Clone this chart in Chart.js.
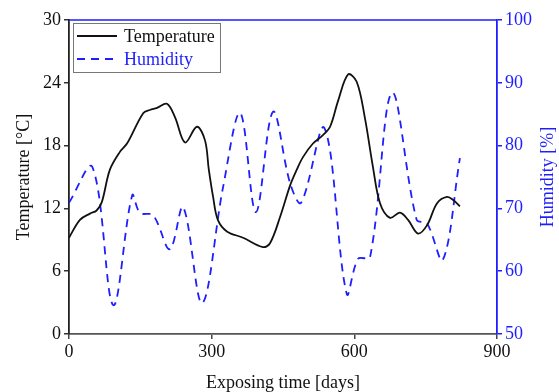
<!DOCTYPE html>
<html>
<head>
<meta charset="utf-8">
<script src="https://cdn.jsdelivr.net/npm/chart.js@4/dist/chart.umd.min.js"></script>
<style>
  body { margin: 0; background: #fff; }
  canvas { display: block; }
</style>
</head>
<body>
<canvas id="myChart" width="559" height="392"></canvas>
<script>
// temperature readings over the exposure period
const tempDays = [0, 23, 44, 58, 69, 86, 107, 122, 156, 170, 185, 206, 223, 244, 269, 286, 294, 303, 313, 332, 366, 408, 423, 444, 465, 479, 492, 513, 534, 549, 566, 587, 605, 622, 639, 654, 675, 696, 713, 734, 753, 774, 795, 808, 822];
const tempValues = [9.2, 10.9, 11.5, 11.8, 12.6, 15.7, 17.4, 18.2, 21.1, 21.4, 21.6, 22.0, 20.7, 18.3, 19.8, 18.5, 15.7, 13.1, 10.9, 9.8, 9.2, 8.3, 8.7, 11.2, 14.2, 15.7, 16.9, 18.2, 19.0, 19.8, 22.3, 24.8, 24.1, 20.7, 16.0, 12.5, 11.1, 11.6, 10.9, 9.6, 10.4, 12.5, 13.1, 12.8, 12.2];

// relative humidity readings
const humDays = [0, 49, 93, 133, 149, 177, 212, 240, 280, 324, 360, 393, 429, 465, 488, 537, 584, 608, 633, 679, 731, 753, 786, 822];
const humValues = [70.9, 76.6, 54.6, 72.1, 69.3, 68.9, 63.5, 70.2, 54.9, 73.4, 85.2, 69.4, 85.4, 74.0, 70.9, 82.8, 56.4, 62.0, 62.2, 88.4, 68.2, 67.6, 61.8, 78.0];

const xTicks = [0, 300, 600, 900];
const tempTicks = [0, 6, 12, 18, 24, 30];
const humTicks = [50, 60, 70, 80, 90, 100];

const BLUE = 'rgb(30,30,255)';
const FONT = 'Liberation Serif';

const ctx = document.getElementById('myChart').getContext('2d');

// top frame line, right axis title and the legend box
const extras = {
  id: 'extras',
  afterDraw(chart) {
    const c = chart.ctx;
    const area = chart.chartArea;
    c.save();
    c.strokeStyle = BLUE;
    c.lineWidth = 1.5;
    c.beginPath();
    c.moveTo(area.left, area.top);
    c.lineTo(area.right, area.top);
    c.stroke();

    // humidity title reads bottom to top
    c.save();
    c.translate(chart.width - 11, (area.top + area.bottom) / 2);
    c.rotate(-Math.PI / 2);
    c.font = '18px "' + FONT + '"';
    c.fillStyle = BLUE;
    c.textAlign = 'center';
    c.textBaseline = 'middle';
    c.fillText('Humidity [%]', 0, 0);
    c.restore();

    const x0 = area.left + 4, y0 = area.top + 3;
    c.strokeStyle = '#777';
    c.lineWidth = 1;
    c.strokeRect(x0 + 0.5, y0 + 0.5, 147, 49);
    c.font = '18px "' + FONT + '"';
    c.textBaseline = 'middle';
    chart.data.datasets.forEach((ds, i) => {
      const y = y0 + 13 + i * 23;
      c.strokeStyle = ds.borderColor;
      c.lineWidth = ds.borderWidth;
      c.setLineDash(ds.borderDash || []);
      c.beginPath();
      c.moveTo(x0 + 4, y);
      c.lineTo(x0 + 44, y);
      c.stroke();
      c.setLineDash([]);
      c.fillStyle = ds.borderColor;
      c.fillText(ds.label, x0 + 51, y + 1);
    });
    c.restore();
  }
};

const toPoints = (xs, ys) => xs.map((d, i) => ({ x: d, y: ys[i] }));

let myChart = new Chart(ctx, {
  type: 'line',
  data: {
    datasets: [{
      label: 'Temperature',
      data: toPoints(tempDays, tempValues),
      borderColor: '#111',
      borderWidth: 1.8,
      pointRadius: 0,
      tension: 0.35,
      yAxisID: 'y'
    }, {
      label: 'Humidity',
      data: toPoints(humDays, humValues),
      borderColor: BLUE,
      borderWidth: 1.8,
      borderDash: [8, 6],
      pointRadius: 0,
      tension: 0.35,
      yAxisID: 'y1'
    }]
  },
  options: {
    responsive: false,
    animation: false,
    layout: { padding: { top: 20, left: 0, right: 0, bottom: 0 } },
    plugins: { legend: { display: false }, tooltip: { enabled: false } },
    scales: {
      x: {
        type: 'linear',
        min: 0,
        max: 900,
        afterBuildTicks: (s) => { s.ticks = xTicks.map(v => ({ value: v })); },
        afterFit: (s) => { s.height = 58; },
        ticks: { color: '#111', font: { family: FONT, size: 18 }, padding: 2, maxRotation: 0 },
        grid: { drawOnChartArea: false, tickLength: 5, color: '#444', lineWidth: 1.5 },
        border: { color: '#555', width: 1.8 },
        title: { display: true, text: 'Exposing time [days]', color: '#111', font: { family: FONT, size: 18 }, padding: { top: 0, bottom: -2 } }
      },
      y: {
        position: 'left',
        min: 0,
        max: 30,
        afterBuildTicks: (s) => { s.ticks = tempTicks.map(v => ({ value: v })); },
        afterFit: (s) => { s.width = 69; },
        ticks: { color: '#111', font: { family: FONT, size: 18 }, padding: 3 },
        grid: { drawOnChartArea: false, tickLength: 5, color: '#333', lineWidth: 1.5 },
        border: { color: '#222', width: 1.8 },
        title: { display: true, text: 'Temperature [°C]', color: '#111', font: { family: FONT, size: 18 }, padding: { top: 13, bottom: 0 } }
      },
      y1: {
        position: 'right',
        min: 50,
        max: 100,
        afterBuildTicks: (s) => { s.ticks = humTicks.map(v => ({ value: v })); },
        afterFit: (s) => { s.width = 62; },
        ticks: { color: BLUE, font: { family: FONT, size: 18 }, padding: 3 },
        grid: { drawOnChartArea: false, tickLength: 5, color: BLUE, lineWidth: 1.5 },
        border: { color: BLUE, width: 1.8 }
      }
    }
  },
  plugins: [extras]
});
</script>
</body>
</html>
